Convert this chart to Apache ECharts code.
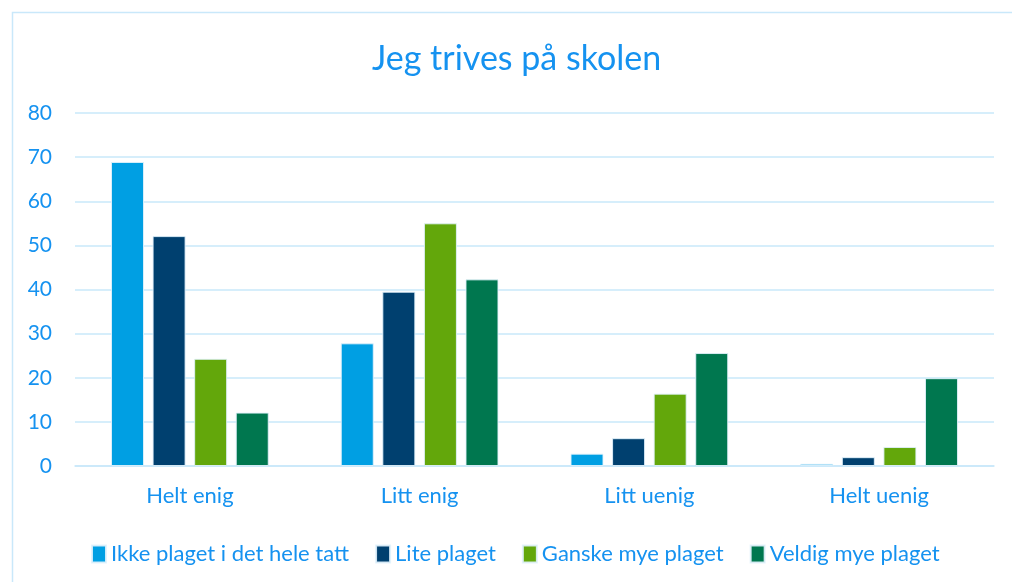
<!DOCTYPE html>
<html>
<head>
<meta charset="utf-8">
<script src="https://cdn.jsdelivr.net/npm/echarts@6/dist/echarts.min.js"></script>
<style>
    html, body { margin: 0; padding: 0; background: #fff; }
    #chart { width: 1012px; height: 582px; }
</style>
</head>
<body>
<div id="chart"></div>
<script>
// kategorier og verdier (lest av figuren)
var categories = ['Helt enig', 'Litt enig', 'Litt uenig', 'Helt uenig'];
var seriesNames = ['Ikke plaget i det hele tatt', 'Lite plaget', 'Ganske mye plaget', 'Veldig mye plaget'];
var ikkePlaget = [68.9, 27.8, 2.8, 0.5];
var litePlaget = [52.1, 39.5, 6.3, 2.0];
var ganskeMye = [24.3, 55.0, 16.4, 4.3];
var veldigMye = [12.1, 42.3, 25.6, 19.9];
var yTicks = [0, 10, 20, 30, 40, 50, 60, 70, 80];

var colors = ['#009FE3', '#00406F', '#63A70B', '#00774F'];
var textBlue = '#1592F0';
var gridBlue = '#C9E8FA';
var font = 'Lato, "Open Sans", sans-serif';

var chart = echarts.init(document.getElementById('chart'));

function bar(name, data) {
    return {
        name: name,
        type: 'bar',
        barWidth: 33,
        barGap: '26%',
        itemStyle: {
            borderColor: 'rgba(225,242,252,0.9)',
            borderWidth: 1
        },
        data: data
    };
}

var option = {
    animation: false,
    color: colors,
    title: {
        text: 'Jeg trives på skolen',
        left: 367,
        top: 37,
        textStyle: {
            color: textBlue,
            fontFamily: font,
            fontSize: 34,
            fontWeight: 'normal'
        }
    },
    graphic: [{
        type: 'rect',
        shape: { x: 12.5, y: 12.5, width: 1100, height: 700 },
        style: { fill: 'none', stroke: gridBlue, lineWidth: 1.5 },
        silent: true
    }],
    legend: {
        left: 86,
        top: 538,
        itemWidth: 14,
        itemHeight: 17,
        itemGap: 26,
        icon: 'rect',
        data: seriesNames,
        textStyle: {
            color: textBlue,
            fontFamily: font,
            fontSize: 22
        }
    },
    grid: {
        left: 75,
        right: 18,
        top: 113,
        bottom: 116,
        containLabel: false
    },
    xAxis: {
        type: 'category',
        data: categories,
        axisTick: { show: false },
        axisLine: { lineStyle: { color: gridBlue, width: 1.5 } },
        axisLabel: {
            color: textBlue,
            fontFamily: font,
            fontSize: 22,
            margin: 19
        }
    },
    yAxis: {
        type: 'value',
        min: yTicks[0],
        max: yTicks[yTicks.length - 1],
        interval: 10,
        axisLine: { show: false },
        axisTick: { show: false },
        axisLabel: {
            color: textBlue,
            fontFamily: font,
            fontSize: 21,
            margin: 23
        },
        splitLine: { lineStyle: { color: gridBlue, width: 1.5 } }
    },
    series: [
        bar(seriesNames[0], ikkePlaget),
        bar(seriesNames[1], litePlaget),
        bar(seriesNames[2], ganskeMye),
        bar(seriesNames[3], veldigMye)
    ]
};

chart.setOption(option);
</script>
</body>
</html>
